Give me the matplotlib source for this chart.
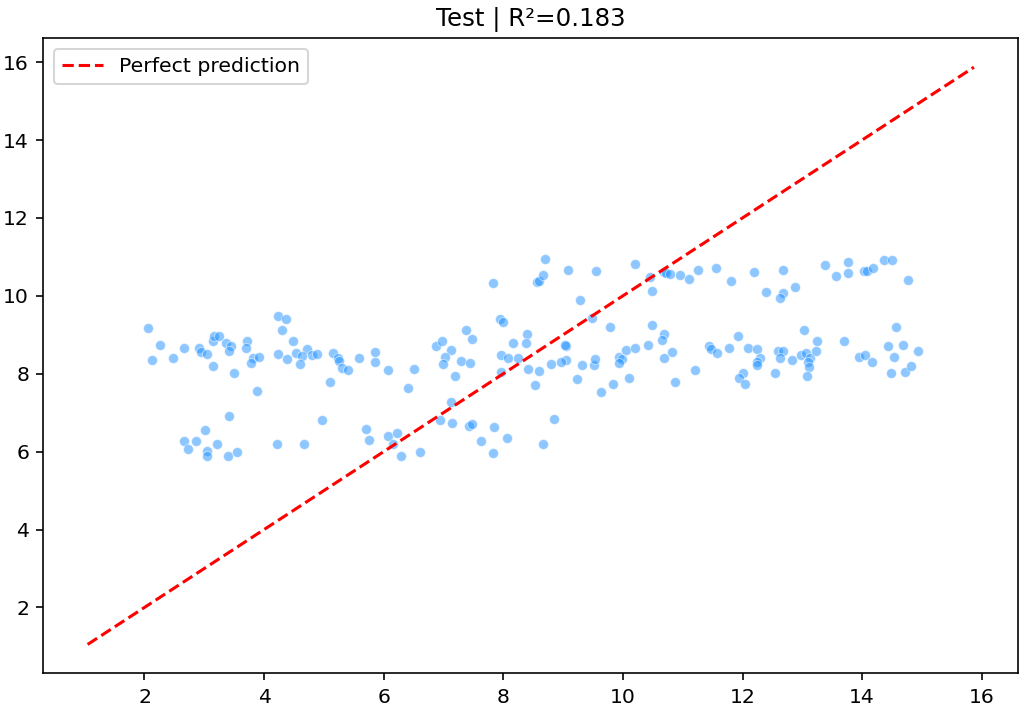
import matplotlib
matplotlib.use("Agg")
import matplotlib.pyplot as plt
import numpy as np

x_vals = [2.06, 2.26, 2.13, 2.48, 2.66, 2.91, 2.95, 3.04, 3.14, 3.14,
          3.16, 3.24, 3.37, 3.44, 3.41, 3.49, 3.71, 3.69, 3.82, 3.79,
          3.92, 3.89, 4.24, 4.37, 4.30, 4.49, 4.24, 4.39, 4.54, 4.72,
          4.64, 4.60, 4.80, 4.89, 5.15, 5.23, 5.26, 5.30, 5.41, 5.10,
          5.58, 5.86, 5.86, 6.08, 6.51, 6.41, 3.41, 4.97, 2.66, 2.72,
          2.87, 3.02, 3.04, 3.04, 3.21, 3.39, 3.54, 4.22, 4.67, 5.71,
          5.75, 6.08, 6.23, 6.16, 6.29, 6.61, 8.70, 9.08, 9.55, 10.21,
          7.82, 8.56, 8.59, 8.67, 10.46, 10.48, 10.68, 10.72, 10.79, 10.96,
          11.10, 11.26, 11.56, 9.28, 9.48, 9.79, 10.48, 7.94, 8.00, 7.37,
          7.47, 6.87, 6.97, 7.12, 7.02, 6.99, 7.30, 7.45, 7.19, 8.17,
          8.40, 8.38, 7.97, 8.08, 8.25, 7.97, 8.42, 8.60, 8.53, 9.05,
          9.03, 9.05, 8.96, 8.80, 9.31, 9.51, 9.53, 9.23, 9.63, 9.83,
          10.11, 9.93, 9.98, 9.94, 10.06, 10.21, 10.42, 10.69, 10.66, 10.82,
          10.69, 10.87, 11.20, 11.44, 11.47, 11.57, 7.12, 6.94, 7.15, 7.43,
          7.47, 7.85, 7.62, 8.07, 7.82, 8.85, 8.67, 11.80, 12.20, 12.67,
          12.39, 12.67, 12.63, 12.88, 13.38, 13.56, 13.76, 13.76, 14.03, 14.08,
          14.19, 14.36, 14.50, 14.76, 11.77, 11.92, 12.10, 12.25, 12.30, 12.25,
          12.25, 12.00, 11.94, 12.05, 12.55, 12.59, 12.67, 12.63, 12.83, 13.03,
          12.97, 13.06, 13.13, 13.10, 13.12, 13.25, 13.23, 13.08, 13.69, 13.95,
          14.04, 14.16, 14.56, 14.44, 14.68, 14.54, 14.94, 14.49, 14.71, 14.82]

y_vals = [9.17, 8.74, 8.36, 8.40, 8.67, 8.67, 8.57, 8.51, 8.20, 8.85,
          8.97, 8.98, 8.80, 8.70, 8.59, 8.01, 8.83, 8.67, 8.40, 8.27,
          8.44, 7.56, 9.49, 9.40, 9.13, 8.83, 8.51, 8.39, 8.53, 8.64,
          8.46, 8.24, 8.48, 8.51, 8.53, 8.41, 8.33, 8.16, 8.10, 7.78,
          8.40, 8.57, 8.31, 8.10, 8.12, 7.63, 6.92, 6.81, 6.28, 6.08,
          6.28, 6.55, 6.02, 5.89, 6.19, 5.89, 5.99, 6.19, 6.19, 6.58,
          6.31, 6.40, 6.47, 6.19, 5.89, 5.99, 10.95, 10.67, 10.63, 10.83,
          10.33, 10.35, 10.37, 10.53, 10.49, 10.13, 10.61, 10.59, 10.55, 10.53,
          10.44, 10.67, 10.72, 9.90, 9.43, 9.20, 9.25, 9.40, 9.32, 9.13,
          8.90, 8.70, 8.83, 8.60, 8.44, 8.24, 8.32, 8.28, 7.94, 8.79,
          9.03, 8.79, 8.47, 8.40, 8.40, 8.05, 8.12, 8.08, 7.70, 8.70,
          8.74, 8.36, 8.31, 8.24, 8.23, 8.23, 8.37, 7.86, 7.54, 7.74,
          7.90, 8.44, 8.37, 8.27, 8.60, 8.67, 8.74, 9.02, 8.87, 8.56,
          8.41, 7.78, 8.09, 8.70, 8.63, 8.54, 7.27, 6.81, 6.74, 6.67,
          6.70, 6.62, 6.28, 6.35, 5.97, 6.85, 6.20, 10.37, 10.60, 10.67,
          10.10, 10.07, 9.94, 10.22, 10.80, 10.52, 10.87, 10.59, 10.63, 10.63,
          10.72, 10.91, 10.91, 10.40, 8.67, 8.97, 8.67, 8.64, 8.41, 8.31,
          8.23, 8.03, 7.90, 7.73, 8.01, 8.59, 8.59, 8.41, 8.36, 9.13,
          8.48, 8.53, 8.40, 8.29, 8.18, 8.83, 8.59, 7.94, 8.83, 8.44,
          8.47, 8.31, 9.21, 8.70, 8.74, 8.44, 8.59, 8.01, 8.05, 8.21]

# range of the perfect prediction line
line_lo = 1.05
line_hi = 15.87
r2 = 0.183

dpi = 147
fig, ax = plt.subplots(figsize=(1024 / dpi, 715 / dpi), dpi=dpi)
ax.scatter(x_vals, y_vals, s=24, color="#1E90FF", alpha=0.5,
           edgecolors="white", linewidths=0.5)
ax.plot([line_lo, line_hi], [line_lo, line_hi], "r--", lw=1.5,
        label="Perfect prediction")
ax.set_title("Test | R\u00b2=" + str(r2))
ax.legend(loc="upper left")
fig.subplots_adjust(left=0.0423, right=0.9944, bottom=0.0583, top=0.9464)
fig.savefig("out.png", dpi=dpi)
